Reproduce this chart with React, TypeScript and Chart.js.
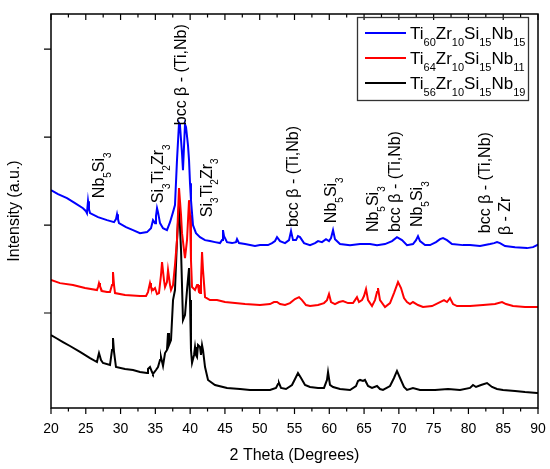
import React, { useEffect, useRef } from 'react';
import { Chart, registerables } from 'chart.js';

Chart.register(...registerables);

// [2θ (deg), intensity (a.u.)]
const ti60: [number, number][] = [
  [20.0, 2397], [21.01, 2352], [22.3, 2306], [23.45, 2249], [24.6, 2192], [25.03, 2158], [25.17, 2136],
  [25.32, 2272], [25.46, 2181], [25.61, 2136], [26.76, 2090], [28.05, 2056], [29.06, 2033], [29.34, 2068],
  [29.49, 2124], [29.63, 2068], [29.77, 2022], [30.78, 1977], [31.79, 1943], [32.79, 1908], [33.8, 1920],
  [34.37, 1965], [34.66, 2056], [34.95, 2022], [35.09, 2102], [35.24, 2192], [35.38, 2147], [35.67, 2022],
  [36.1, 1965], [36.67, 1943], [37.11, 2033], [37.54, 2147], [37.82, 2227], [38.11, 2738], [38.4, 3158],
  [38.54, 3135], [38.83, 2817], [38.97, 2624], [39.26, 3147], [39.41, 3113], [39.69, 2908], [39.84, 2738],
  [39.98, 2476], [40.12, 2283], [40.41, 1999], [40.84, 1908], [41.42, 1863], [42.14, 1829], [42.85, 1818],
  [43.57, 1806], [44.29, 1795], [44.58, 1829], [44.72, 1943], [44.87, 1874], [45.3, 1806], [46.02, 1795],
  [46.59, 1806], [46.74, 1840], [47.02, 1795], [47.89, 1784], [49.32, 1761], [50.04, 1772], [51.19, 1772],
  [51.77, 1795], [52.2, 1818], [52.49, 1863], [52.92, 1818], [53.64, 1795], [54.21, 1829], [54.5, 1931],
  [54.79, 1829], [55.22, 1829], [55.5, 1874], [55.79, 1863], [56.37, 1795], [57.23, 1772], [57.95, 1795],
  [58.38, 1818], [58.95, 1806], [59.53, 1840], [59.96, 1818], [60.25, 1852], [60.54, 1943], [60.82, 1840],
  [61.54, 1784], [62.98, 1772], [64.42, 1784], [65.85, 1784], [66.86, 1772], [68.01, 1784], [69.02, 1818],
  [69.73, 1863], [70.45, 1829], [71.17, 1772], [72.03, 1784], [72.47, 1829], [72.75, 1874], [73.04, 1818],
  [73.76, 1772], [74.48, 1772], [75.34, 1806], [75.92, 1840], [76.35, 1852], [76.92, 1829], [77.64, 1784],
  [79.22, 1772], [80.23, 1772], [81.67, 1761], [83.1, 1784], [83.68, 1795], [84.11, 1806], [84.54, 1795],
  [85.26, 1761], [86.7, 1749], [88.42, 1738], [89.28, 1749], [89.86, 1772], [90.0, 1784],
];

const ti64: [number, number][] = [
  [20.0, 1375], [21.29, 1340], [23.16, 1318], [24.89, 1284], [26.61, 1261], [26.76, 1295], [26.9, 1340],
  [27.04, 1306], [27.33, 1250], [28.05, 1238], [28.48, 1238], [28.77, 1318], [28.91, 1465], [29.06, 1318],
  [29.2, 1227], [30.64, 1204], [32.79, 1193], [33.66, 1193], [33.94, 1238], [34.23, 1340], [34.37, 1295],
  [34.66, 1261], [34.95, 1284], [35.24, 1216], [35.52, 1227], [35.81, 1431], [35.96, 1579], [36.24, 1375],
  [36.39, 1295], [36.67, 1352], [36.82, 1488], [37.11, 1318], [37.25, 1261], [37.54, 1318], [37.82, 1545],
  [38.11, 1829], [38.4, 2420], [38.69, 2113], [38.83, 1908], [39.12, 1715], [39.26, 1624], [39.55, 1829],
  [39.84, 2283], [39.98, 2113], [40.12, 1602], [40.27, 1295], [40.7, 1261], [40.99, 1318], [41.13, 1318],
  [41.27, 1238], [41.42, 1227], [41.56, 1375], [41.71, 1693], [41.85, 1488], [42.14, 1181], [42.85, 1147],
  [43.86, 1147], [45.01, 1125], [46.45, 1113], [47.89, 1102], [50.04, 1091], [51.48, 1102], [52.05, 1125],
  [52.49, 1125], [52.92, 1102], [53.64, 1091], [54.35, 1113], [55.07, 1159], [55.65, 1181], [56.08, 1147],
  [56.65, 1091], [57.23, 1079], [58.38, 1091], [59.24, 1113], [59.67, 1147], [59.96, 1216], [60.25, 1125],
  [60.82, 1102], [61.4, 1125], [61.97, 1136], [62.69, 1113], [63.41, 1113], [63.7, 1147], [63.98, 1181],
  [64.27, 1125], [64.7, 1147], [64.99, 1193], [65.28, 1272], [65.57, 1147], [66.14, 1079], [66.57, 1147],
  [66.86, 1238], [67.0, 1284], [67.29, 1147], [68.01, 1068], [68.73, 1113], [69.3, 1227], [69.88, 1352],
  [70.31, 1284], [70.74, 1170], [71.17, 1125], [71.6, 1102], [72.03, 1125], [72.75, 1091], [73.47, 1068],
  [74.77, 1079], [75.92, 1125], [76.49, 1147], [76.92, 1125], [77.35, 1170], [77.78, 1102], [78.36, 1079],
  [80.23, 1079], [82.1, 1091], [83.82, 1102], [84.83, 1125], [85.4, 1102], [86.41, 1079], [88.13, 1068],
  [89.86, 1068], [90.0, 1068],
];

const ti56: [number, number][] = [
  [20.0, 750], [20.72, 716], [21.72, 670], [22.73, 625], [24.17, 557], [25.61, 488], [26.61, 443],
  [26.76, 500], [26.9, 545], [27.19, 466], [27.47, 432], [28.48, 409], [28.77, 579], [28.91, 716],
  [29.06, 557], [29.34, 386], [30.64, 364], [31.79, 352], [32.79, 329], [33.8, 318], [33.94, 364],
  [34.23, 386], [34.52, 329], [34.66, 307], [35.09, 352], [35.38, 386], [35.67, 466], [35.81, 500],
  [36.1, 398], [36.39, 545], [36.67, 579], [36.82, 772], [36.96, 636], [37.25, 693], [37.54, 1147],
  [37.82, 1261], [38.11, 1829], [38.4, 2227], [38.69, 1715], [38.97, 920], [39.26, 977], [39.55, 1261],
  [39.84, 1511], [39.98, 1147], [40.12, 579], [40.27, 432], [40.56, 523], [40.7, 613], [40.84, 523],
  [40.99, 500], [41.13, 636], [41.42, 613], [41.56, 523], [41.71, 636], [41.85, 579], [42.14, 386],
  [42.57, 239], [43.57, 182], [45.3, 148], [47.17, 136], [48.6, 125], [50.04, 125], [51.48, 125],
  [52.34, 148], [52.63, 193], [52.77, 204], [53.06, 148], [53.78, 136], [54.64, 182], [55.22, 273],
  [55.5, 318], [55.94, 261], [56.51, 182], [57.23, 159], [58.38, 148], [59.24, 148], [59.67, 239],
  [59.82, 329], [60.1, 182], [60.54, 159], [61.54, 136], [62.98, 125], [63.84, 170], [64.13, 227],
  [64.42, 239], [64.85, 227], [65.13, 239], [65.57, 170], [66.14, 148], [66.86, 170], [67.29, 136],
  [67.72, 125], [68.73, 170], [69.3, 261], [69.73, 341], [70.17, 261], [70.74, 159], [71.17, 125],
  [72.03, 148], [73.04, 125], [75.2, 125], [77.07, 136], [78.79, 125], [80.23, 148], [80.66, 182],
  [81.09, 159], [81.81, 182], [82.67, 204], [83.39, 159], [84.11, 136], [84.97, 125], [86.7, 114],
  [88.13, 102], [89.86, 91], [90.0, 91],
];

const seriesData = [ti60, ti64, ti56];
const seriesNames = ['Ti_60Zr_10Si_15Nb_15', 'Ti_64Zr_10Si_15Nb_11', 'Ti_56Zr_10Si_15Nb_19'];
const seriesColors = ['#0000ff', '#ff0000', '#000000'];

const yTickValues = [1000, 2000, 3000, 4000];

// phase labels: 2θ of the label, intensity where the label starts, text (_n = subscript)
const peakTheta = [27.6, 36.1, 39.4, 43.1, 55.5, 61.0, 67.0, 70.2, 73.3, 83.1, 86.0];
const peakBase = [2306, 2249, 3135, 2090, 1977, 2022, 1920, 1920, 1977, 1908, 1886];
const peakLabels = [
  'Nb_5Si_3', 'Si_3Ti_2Zr_3', 'bcc β - (Ti,Nb)', 'Si_3Ti_2Zr_3', 'bcc β - (Ti,Nb)', 'Nb_5Si_3',
  'Nb_5Si_3', 'bcc β - (Ti,Nb)', 'Nb_5Si_3', 'bcc β - (Ti,Nb)', 'β - Zr',
];

const FONT = '"Liberation Sans", Arial, sans-serif';

function splitSubs(s: string) {
  const out: { t: string; sub: boolean }[] = [];
  s.split(/(_\d+)/).forEach((p) => {
    if (!p) return;
    if (p[0] === '_') out.push({ t: p.slice(1), sub: true });
    else out.push({ t: p, sub: false });
  });
  return out;
}

function drawRich(ctx: CanvasRenderingContext2D, s: string, x: number, y: number, size: number) {
  let cx = x;
  for (const p of splitSubs(s)) {
    const fs = Math.round(p.sub ? size * 0.65 : size);
    ctx.font = `${fs}px ${FONT}`;
    ctx.fillText(p.t, cx, p.sub ? y + size * 0.42 : y);
    cx += ctx.measureText(p.t).width;
  }
}

const decorations = {
  id: 'decorations',
  afterDraw(chart: any) {
    const ctx: CanvasRenderingContext2D = chart.ctx;
    const xs = chart.scales.x;
    const ys = chart.scales.y;
    const { left, right, top, bottom } = chart.chartArea;
    ctx.save();
    ctx.strokeStyle = '#000';
    ctx.lineWidth = 1.5;
    ctx.strokeRect(left, top, right - left, bottom - top);

    ctx.lineWidth = 1.2;
    ctx.beginPath();
    xs.ticks.forEach((t: any) => {
      const px = xs.getPixelForValue(t.value);
      const len = Math.abs(t.value % 5) < 1e-6 ? 6 : 3.5;
      ctx.moveTo(px, bottom);
      ctx.lineTo(px, bottom + len);
      ctx.moveTo(px, top);
      ctx.lineTo(px, top + len);
    });
    yTickValues.forEach((v) => {
      const py = ys.getPixelForValue(v);
      ctx.moveTo(left, py);
      ctx.lineTo(left - 7, py);
    });
    ctx.stroke();

    // phase labels, rotated
    ctx.fillStyle = '#000';
    ctx.textBaseline = 'alphabetic';
    ctx.textAlign = 'left';
    peakLabels.forEach((lab, i) => {
      ctx.save();
      ctx.translate(xs.getPixelForValue(peakTheta[i]), ys.getPixelForValue(peakBase[i]));
      ctx.rotate(-Math.PI / 2);
      drawRich(ctx, lab, 0, 0, 16);
      ctx.restore();
    });

    // legend
    ctx.strokeStyle = '#333';
    ctx.lineWidth = 1.3;
    ctx.strokeRect(357.5, 17.5, 171, 83);
    seriesNames.forEach((name, i) => {
      const ly = 33 + i * 25;
      ctx.strokeStyle = seriesColors[i];
      ctx.lineWidth = 2;
      ctx.beginPath();
      ctx.moveTo(365, ly);
      ctx.lineTo(406, ly);
      ctx.stroke();
      ctx.fillStyle = '#000';
      drawRich(ctx, name, 410, ly + 6, 16.5);
    });
    ctx.restore();
  },
};

export default function App() {
  const canvasRef = useRef<HTMLCanvasElement>(null);

  useEffect(() => {
    document.body.style.margin = '0';
    const chart = new Chart(canvasRef.current!, {
      type: 'line',
      data: {
        datasets: seriesData.map((d, i) => ({
          label: seriesNames[i],
          data: d.map(([x, y]) => ({ x, y })),
          borderColor: seriesColors[i],
          borderWidth: 2,
          pointRadius: 0,
          tension: 0,
          fill: false,
        })),
      },
      options: {
        animation: false,
        responsive: true,
        maintainAspectRatio: false,
        events: [],
        layout: { padding: { top: 14, right: 12, left: 0, bottom: 0 } },
        plugins: { legend: { display: false }, tooltip: { enabled: false } },
        scales: {
          x: {
            type: 'linear',
            min: 20,
            max: 90,
            grid: { display: false, drawTicks: false },
            border: { display: false },
            ticks: {
              stepSize: 2.5,
              autoSkip: false,
              maxRotation: 0,
              padding: 13,
              color: '#000',
              font: { family: FONT, size: 14 },
              callback: (v: any) => (Number(v) % 5 === 0 ? String(v) : ''),
            },
            title: {
              display: true,
              text: '2 Theta (Degrees)',
              color: '#000',
              font: { family: FONT, size: 16 },
              padding: { top: 0, bottom: 4 },
            },
            afterFit: (s: any) => {
              s.height = 61;
              s.paddingLeft = 0;
              s.paddingRight = 0;
            },
          },
          y: {
            type: 'linear',
            min: -80,
            max: 4400,
            grid: { display: false, drawTicks: false },
            border: { display: false },
            ticks: { display: false, stepSize: 1000 },
            title: {
              display: true,
              text: 'Intensity (a.u.)',
              color: '#000',
              font: { family: FONT, size: 16 },
              padding: { top: 5, bottom: 0 },
            },
            afterFit: (s: any) => {
              s.width = 51;
              s.paddingTop = 0;
              s.paddingBottom = 0;
            },
          },
        },
      },
      plugins: [decorations],
    });
    return () => chart.destroy();
  }, []);

  return (
    <div style={{ width: 550, height: 469, position: 'relative', background: '#fff' }}>
      <canvas ref={canvasRef} />
    </div>
  );
}
